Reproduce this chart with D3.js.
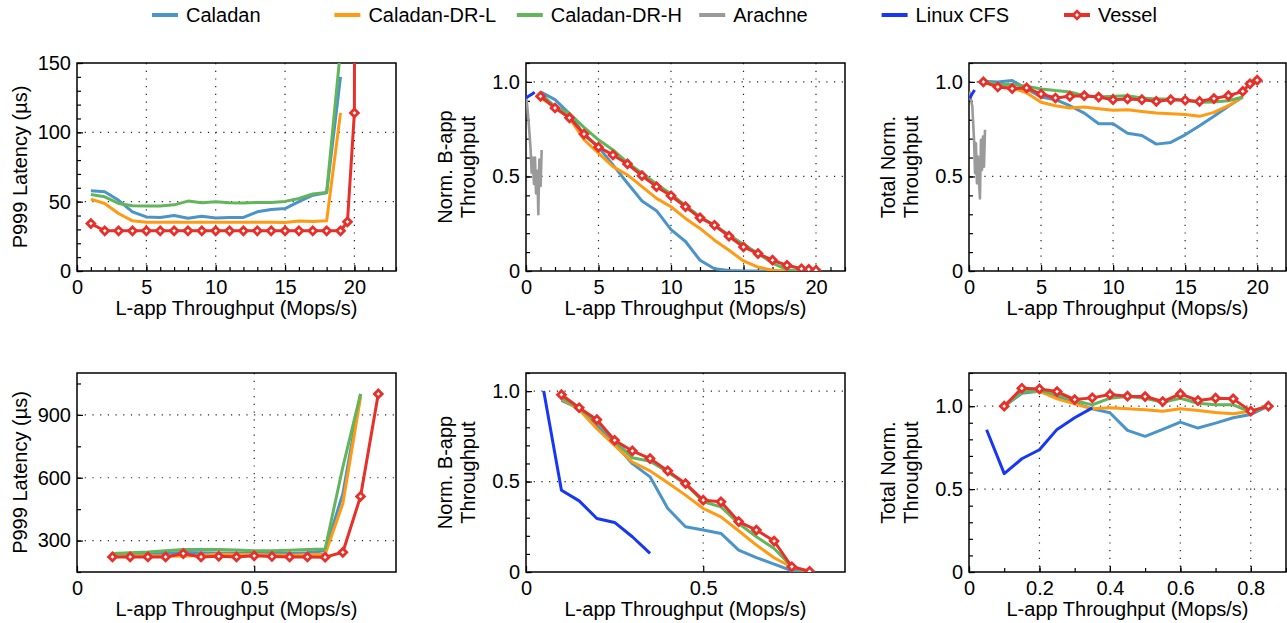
<!DOCTYPE html>
<html>
<head>
<meta charset="utf-8">
<script src="https://cdn.jsdelivr.net/npm/d3@7"></script>
<style>
  body { margin: 0; background: #fff; }
  text { font-family: "Liberation Sans", Arial, Helvetica, sans-serif; fill: #000; }
</style>
</head>
<body>
<div id="chart"></div>
<script>
var W = 1287, H = 623;

// ---- data ----
var seriesNames = ["Caladan", "Caladan-DR-L", "Caladan-DR-H", "Arachne", "Linux CFS", "Vessel"];
var colors = ["#4b94c9", "#ff9a12", "#62b55b", "#9a9a9a", "#1637f5", "#e8302a"];

// top row: L-app throughput (Mops/s)
var topX = [1, 2, 3, 4, 5, 6, 7, 8, 9, 10, 11, 12, 13, 14, 15, 16, 17, 18, 19];
var topXVessel = [1, 2, 3, 4, 5, 6, 7, 8, 9, 10, 11, 12, 13, 14, 15, 16, 17, 18, 19, 19.5, 20];

var latCaladan = [57.9, 57.2, 51, 42.7, 39, 38.6, 40, 38, 39.5, 38.3, 38.6, 38.6, 42.7, 44.4, 45, 50, 54.7, 56.4, 140];
var latDRL = [51.8, 48.7, 41.5, 36.2, 35.2, 35.2, 35.2, 35.2, 35.2, 35.2, 35.2, 35.2, 35.2, 35.2, 35, 36, 35.7, 36.2, 114];
var latDRH = [55.2, 53.5, 48.7, 47, 46.8, 46.8, 47.7, 50.4, 49.2, 50, 49.2, 49, 49.4, 49.4, 50.2, 52.3, 55.5, 56.7, 160];
var latVesselX = [1, 2, 3, 4, 5, 6, 7, 8, 9, 10, 11, 12, 13, 14, 15, 16, 17, 18, 19, 19.5, 20, 20.05];
var latVessel = [34.2, 29, 29, 29, 29, 29, 29, 29, 29, 29, 29, 29, 29, 29, 29, 29, 29, 29, 29, 35.5, 114, 400];

var nbCaladanX = [1, 2, 3, 4, 5, 6, 7, 8, 9, 10, 11, 12, 13, 14, 15, 16, 17];
var nbCaladan = [0.947, 0.906, 0.832, 0.72, 0.655, 0.561, 0.464, 0.37, 0.319, 0.219, 0.156, 0.057, 0.012, 0.003, 0, 0, 0];
var nbDRLX = [1, 2, 3, 4, 5, 6, 7, 8, 9, 10, 11, 12, 13, 14, 15, 16, 17, 18];
var nbDRL = [0.915, 0.87, 0.81, 0.694, 0.623, 0.552, 0.508, 0.446, 0.384, 0.34, 0.278, 0.225, 0.163, 0.11, 0.053, 0.021, 0.004, 0];
var nbDRH = [0.94, 0.87, 0.832, 0.76, 0.694, 0.64, 0.573, 0.517, 0.46, 0.407, 0.345, 0.287, 0.242, 0.19, 0.142, 0.092, 0.042, 0.007, 0];
var nbVessel = [0.924, 0.862, 0.81, 0.724, 0.655, 0.614, 0.566, 0.504, 0.446, 0.398, 0.34, 0.281, 0.242, 0.184, 0.127, 0.092, 0.057, 0.03, 0.012, 0.009, 0.004];
var nbCfsX = [0, 0.2, 0.4, 0.6];
var nbCfs = [0.915, 0.925, 0.935, 0.945];
var nbArachneX = [0, 0.09, 0.21, 0.32, 0.39, 0.46, 0.55, 0.62, 0.69, 0.78, 0.85, 0.92, 1.01, 1.08];
var nbArachne = [0.92, 0.87, 0.76, 0.64, 0.52, 0.6, 0.46, 0.6, 0.41, 0.53, 0.3, 0.59, 0.45, 0.64];

var tnCaladan = [1.003, 1.0, 1.007, 0.963, 0.92, 0.906, 0.874, 0.835, 0.779, 0.779, 0.729, 0.717, 0.671, 0.68, 0.72, 0.768, 0.818, 0.871, 0.92];
var tnDRL = [1.0, 0.977, 0.968, 0.942, 0.892, 0.874, 0.862, 0.867, 0.858, 0.85, 0.853, 0.844, 0.835, 0.832, 0.828, 0.818, 0.839, 0.874, 0.92];
var tnDRH = [1.003, 0.986, 0.986, 0.977, 0.963, 0.954, 0.947, 0.927, 0.92, 0.924, 0.927, 0.915, 0.91, 0.91, 0.903, 0.892, 0.894, 0.9, 0.92];
var tnVessel = [1.0, 0.973, 0.965, 0.968, 0.936, 0.915, 0.924, 0.927, 0.92, 0.906, 0.91, 0.906, 0.897, 0.906, 0.903, 0.897, 0.912, 0.927, 0.95, 0.99, 1.009];
var tnCfsX = [0.05, 0.2, 0.39];
var tnCfs = [0.914, 0.935, 0.957];
var tnArachneX = [0.02, 0.23, 0.35, 0.42, 0.48, 0.55, 0.62, 0.69, 0.76, 0.83, 0.9, 0.97, 1.04, 1.11];
var tnArachne = [0.95, 0.871, 0.694, 0.517, 0.676, 0.464, 0.605, 0.481, 0.384, 0.694, 0.535, 0.711, 0.552, 0.747];

// bottom row
var botX = [0.1, 0.15, 0.2, 0.25, 0.3, 0.35, 0.4, 0.45, 0.5, 0.55, 0.6, 0.65, 0.7, 0.75, 0.8];
var botXLong = [0.1, 0.15, 0.2, 0.25, 0.3, 0.35, 0.4, 0.45, 0.5, 0.55, 0.6, 0.65, 0.7, 0.75, 0.8, 0.85];
var cfsX = [0.05, 0.1, 0.15, 0.2, 0.25, 0.3, 0.35];

var lbCaladan = [230, 232, 235, 239, 243, 242, 241, 241, 241, 239, 238, 242, 251, 524, 1000];
var lbDRL = [227, 226, 227, 226, 225, 230, 235, 234, 233, 231, 230, 232, 235, 476, 984];
var lbDRH = [238, 242, 246, 252, 257, 257, 257, 255, 251, 252, 254, 257, 260, 651, 1000];
var lbVessel = [222, 222, 222, 222, 238, 222, 225, 222, 227, 224, 222, 222, 221, 244, 511, 1000];

var nbbCaladan = [0.949, 0.903, 0.81, 0.71, 0.599, 0.526, 0.351, 0.25, 0.232, 0.213, 0.121, 0.079, 0.044, 0.007, 0];
var nbbDRL = [0.958, 0.897, 0.792, 0.7, 0.608, 0.559, 0.493, 0.425, 0.351, 0.305, 0.228, 0.149, 0.079, 0.026, 0];
var nbbDRH = [0.963, 0.903, 0.829, 0.728, 0.631, 0.612, 0.553, 0.485, 0.388, 0.36, 0.268, 0.195, 0.13, 0.029, 0];
var nbbVessel = [0.98, 0.908, 0.842, 0.728, 0.669, 0.627, 0.559, 0.489, 0.397, 0.388, 0.279, 0.232, 0.171, 0.029, 0.004];
var nbbCfs = [1.0, 0.452, 0.393, 0.296, 0.274, 0.195, 0.103];

var tnbCaladan = [1.0, 1.078, 1.09, 1.054, 1.02, 0.984, 0.96, 0.854, 0.818, 0.86, 0.904, 0.868, 0.898, 0.93, 0.95, 1.0];
var tnbDRL = [1.0, 1.09, 1.09, 1.044, 1.014, 0.984, 0.99, 0.984, 0.978, 0.97, 0.984, 0.974, 0.962, 0.954, 0.97, 1.0];
var tnbDRH = [1.0, 1.084, 1.094, 1.07, 1.034, 1.008, 1.048, 1.058, 1.048, 1.024, 1.048, 1.018, 1.008, 1.008, 0.964, 1.0];
var tnbVessel = [1.0, 1.108, 1.104, 1.088, 1.04, 1.05, 1.07, 1.06, 1.058, 1.028, 1.074, 1.034, 1.048, 1.044, 0.97, 1.0];
var tnbCfs = [0.858, 0.593, 0.683, 0.737, 0.86, 0.93, 0.99];

function zip(xs, ys) { return xs.map(function (x, i) { return [x, ys[i]]; }); }

var svg = d3.select("#chart").append("svg")
    .attr("width", W)
    .attr("height", H);

var marker = d3.symbol(d3.symbolSquare, 30);

// ---- legend ----
var legend = svg.append("g").attr("transform", "translate(152,15)");
seriesNames.forEach(function (name, i) {
  var g = legend.append("g").attr("transform", "translate(" + (i * 182.4) + ",0)");
  g.append("line").attr("x1", 0).attr("x2", 26).attr("y1", 0).attr("y2", 0)
      .attr("stroke", colors[i]).attr("stroke-width", 4);
  if (name == "Vessel") {
    g.append("path").attr("d", marker())
        .attr("transform", "translate(13,0) rotate(45)")
        .attr("fill", "#fff").attr("stroke", colors[i]).attr("stroke-width", 2.8);
  }
  g.append("text").attr("x", 34).attr("y", 7).attr("font-size", 20).text(name);
});

// ---- panels ----
var cols = [77, 526, 969], widths = [319, 319, 317];
var rowTop = [63, 373], rowBottom = [271, 572];

var panels = [
  { col: 0, row: 0, xDom: [0, 23], yDom: [0, 150], xTicks: [0, 5, 10, 15, 20], xMinor: d3.range(0, 24, 1),
    yTicks: [0, 50, 100, 150], yMinor: d3.range(0, 151, 10), xGrid: [5, 10, 15, 20], yGrid: [50, 100],
    yFmt: String, xFmt: String, ylab: ["P999 Latency (µs)"],
    series: [[0, zip(topX, latCaladan)], [1, zip(topX, latDRL)], [2, zip(topX, latDRH)], [5, zip(latVesselX, latVessel)]] },
  { col: 1, row: 0, xDom: [0, 22], yDom: [0, 1.1], xTicks: [0, 5, 10, 15, 20], xMinor: d3.range(0, 23, 1),
    yTicks: [0, 0.5, 1.0], yMinor: d3.range(0, 1.11, 0.1), xGrid: [5, 10, 15, 20], yGrid: [0.5, 1.0],
    yFmt: function (d) { return d == 0 ? "0" : d3.format(".1f")(d); }, xFmt: String, ylab: ["Norm. B-app", "Throughput"],
    series: [[0, zip(nbCaladanX, nbCaladan)], [1, zip(nbDRLX, nbDRL)], [2, zip(topX, nbDRH)],
             [3, zip(nbArachneX, nbArachne)], [4, zip(nbCfsX, nbCfs)], [5, zip(topXVessel, nbVessel)]] },
  { col: 2, row: 0, xDom: [0, 22], yDom: [0, 1.1], xTicks: [0, 5, 10, 15, 20], xMinor: d3.range(0, 23, 1),
    yTicks: [0, 0.5, 1.0], yMinor: d3.range(0, 1.11, 0.1), xGrid: [5, 10, 15, 20], yGrid: [0.5, 1.0],
    yFmt: function (d) { return d == 0 ? "0" : d3.format(".1f")(d); }, xFmt: String, ylab: ["Total Norm.", "Throughput"],
    series: [[0, zip(topX, tnCaladan)], [1, zip(topX, tnDRL)], [2, zip(topX, tnDRH)],
             [3, zip(tnArachneX, tnArachne)], [4, zip(tnCfsX, tnCfs)], [5, zip(topXVessel, tnVessel)]] },
  { col: 0, row: 1, xDom: [0, 0.9], yDom: [150, 1100], xTicks: [0, 0.5], xMinor: [],
    yTicks: [300, 600, 900], yMinor: d3.range(150, 1100, 150), xGrid: [0.5], yGrid: [300, 600, 900],
    yFmt: String, xFmt: function (d) { return d == 0 ? "0" : String(d); }, ylab: ["P999 Latency (µs)"],
    series: [[0, zip(botX, lbCaladan)], [1, zip(botX, lbDRL)], [2, zip(botX, lbDRH)], [5, zip(botXLong, lbVessel)]] },
  { col: 1, row: 1, xDom: [0, 0.9], yDom: [0, 1.1], xTicks: [0, 0.5], xMinor: [],
    yTicks: [0, 0.5, 1.0], yMinor: d3.range(0, 1.11, 0.1), xGrid: [0.5], yGrid: [0.5, 1.0],
    yFmt: function (d) { return d == 0 ? "0" : d3.format(".1f")(d); }, xFmt: function (d) { return d == 0 ? "0" : String(d); },
    ylab: ["Norm. B-app", "Throughput"],
    series: [[0, zip(botX, nbbCaladan)], [1, zip(botX, nbbDRL)], [2, zip(botX, nbbDRH)],
             [4, zip(cfsX, nbbCfs)], [5, zip(botX, nbbVessel)]] },
  { col: 2, row: 1, xDom: [0, 0.9], yDom: [0, 1.2], xTicks: [0, 0.2, 0.4, 0.6, 0.8], xMinor: d3.range(0, 0.91, 0.1),
    yTicks: [0, 0.5, 1.0], yMinor: d3.range(0, 1.21, 0.1), xGrid: [0.2, 0.4, 0.6, 0.8], yGrid: [0.5, 1.0],
    yFmt: function (d) { return d == 0 ? "0" : d3.format(".1f")(d); }, xFmt: function (d) { return d == 0 ? "0" : String(d); },
    ylab: ["Total Norm.", "Throughput"],
    series: [[0, zip(botXLong, tnbCaladan)], [1, zip(botXLong, tnbDRL)], [2, zip(botXLong, tnbDRH)],
             [4, zip(cfsX, tnbCfs)], [5, zip(botXLong, tnbVessel)]] }
];

panels.forEach(function (p, idx) {
  var left = cols[p.col], top = rowTop[p.row], w = widths[p.col], h = rowBottom[p.row] - top;
  var x = d3.scaleLinear().domain(p.xDom).range([0, w]);
  var y = d3.scaleLinear().domain(p.yDom).range([h, 0]);
  var g = svg.append("g").attr("transform", "translate(" + left + "," + top + ")");

  g.append("clipPath").attr("id", "clip" + idx)
    .append("rect").attr("x", 0).attr("y", 0).attr("width", w).attr("height", h);

  // dotted grid
  g.selectAll(".gx").data(p.xGrid).enter().append("line")
      .attr("x1", function (d) { return x(d); }).attr("x2", function (d) { return x(d); })
      .attr("y1", 0).attr("y2", h)
      .attr("stroke", "#222").attr("stroke-width", 1.2).attr("stroke-dasharray", "1.2,6.5");
  g.selectAll(".gy").data(p.yGrid).enter().append("line")
      .attr("y1", function (d) { return y(d); }).attr("y2", function (d) { return y(d); })
      .attr("x1", 0).attr("x2", w)
      .attr("stroke", "#222").attr("stroke-width", 1.2).attr("stroke-dasharray", "1.2,6.5");

  // minor ticks
  var xm = g.append("g").attr("transform", "translate(0," + h + ")")
      .call(d3.axisBottom(x).tickValues(p.xMinor).tickSize(-4).tickFormat(""));
  var ym = g.append("g").call(d3.axisLeft(y).tickValues(p.yMinor).tickSize(-4).tickFormat(""));

  // major ticks + labels
  var xa = g.append("g").attr("transform", "translate(0," + h + ")")
      .call(d3.axisBottom(x).tickValues(p.xTicks).tickSize(-6).tickPadding(9).tickFormat(p.xFmt));
  var ya = g.append("g")
      .call(d3.axisLeft(y).tickValues(p.yTicks).tickSize(-6).tickPadding(6).tickFormat(p.yFmt));
  [xm, ym, xa, ya].forEach(function (a) {
    a.select(".domain").remove();
    a.selectAll(".tick line").attr("stroke", "#000").attr("stroke-width", 1.2);
    a.selectAll("text").attr("font-size", 20).attr("font-family", "Liberation Sans, Arial, sans-serif").attr("fill", "#000");
  });

  // frame
  g.append("rect").attr("width", w).attr("height", h)
      .attr("fill", "none").attr("stroke", "#000").attr("stroke-width", 1.5);

  // lines
  var line = d3.line().x(function (d) { return x(d[0]); }).y(function (d) { return y(d[1]); });
  var plot = g.append("g").attr("clip-path", "url(#clip" + idx + ")");
  p.series.forEach(function (s) {
    var k = s[0], pts = s[1];
    plot.append("path").datum(pts).attr("d", line)
        .attr("fill", "none").attr("stroke", colors[k])
        .attr("stroke-width", k == 3 ? 2.6 : 3)
        .attr("stroke-linejoin", "round");
    if (k == 5) {
      plot.selectAll(".mk").data(pts).enter().append("path")
          .attr("d", marker())
          .attr("transform", function (d) { return "translate(" + x(d[0]) + "," + y(d[1]) + ") rotate(45)"; })
          .attr("fill", "#fff").attr("stroke", colors[k]).attr("stroke-width", 2.8);
    }
  });

  // axis titles
  g.append("text").attr("x", w / 2).attr("y", h + 44).attr("text-anchor", "middle")
      .attr("font-size", 20).text("L-app Throughput (Mops/s)");
  var yt = g.append("text").attr("text-anchor", "middle").attr("font-size", 20)
      .attr("transform", "translate(" + (p.ylab.length == 1 ? -50 : -74) + "," + (h / 2) + ") rotate(-90)");
  p.ylab.forEach(function (t, i) {
    yt.append("tspan").attr("x", 0).attr("dy", i == 0 ? 0 : 23).text(t);
  });
});
</script>
</body>
</html>
